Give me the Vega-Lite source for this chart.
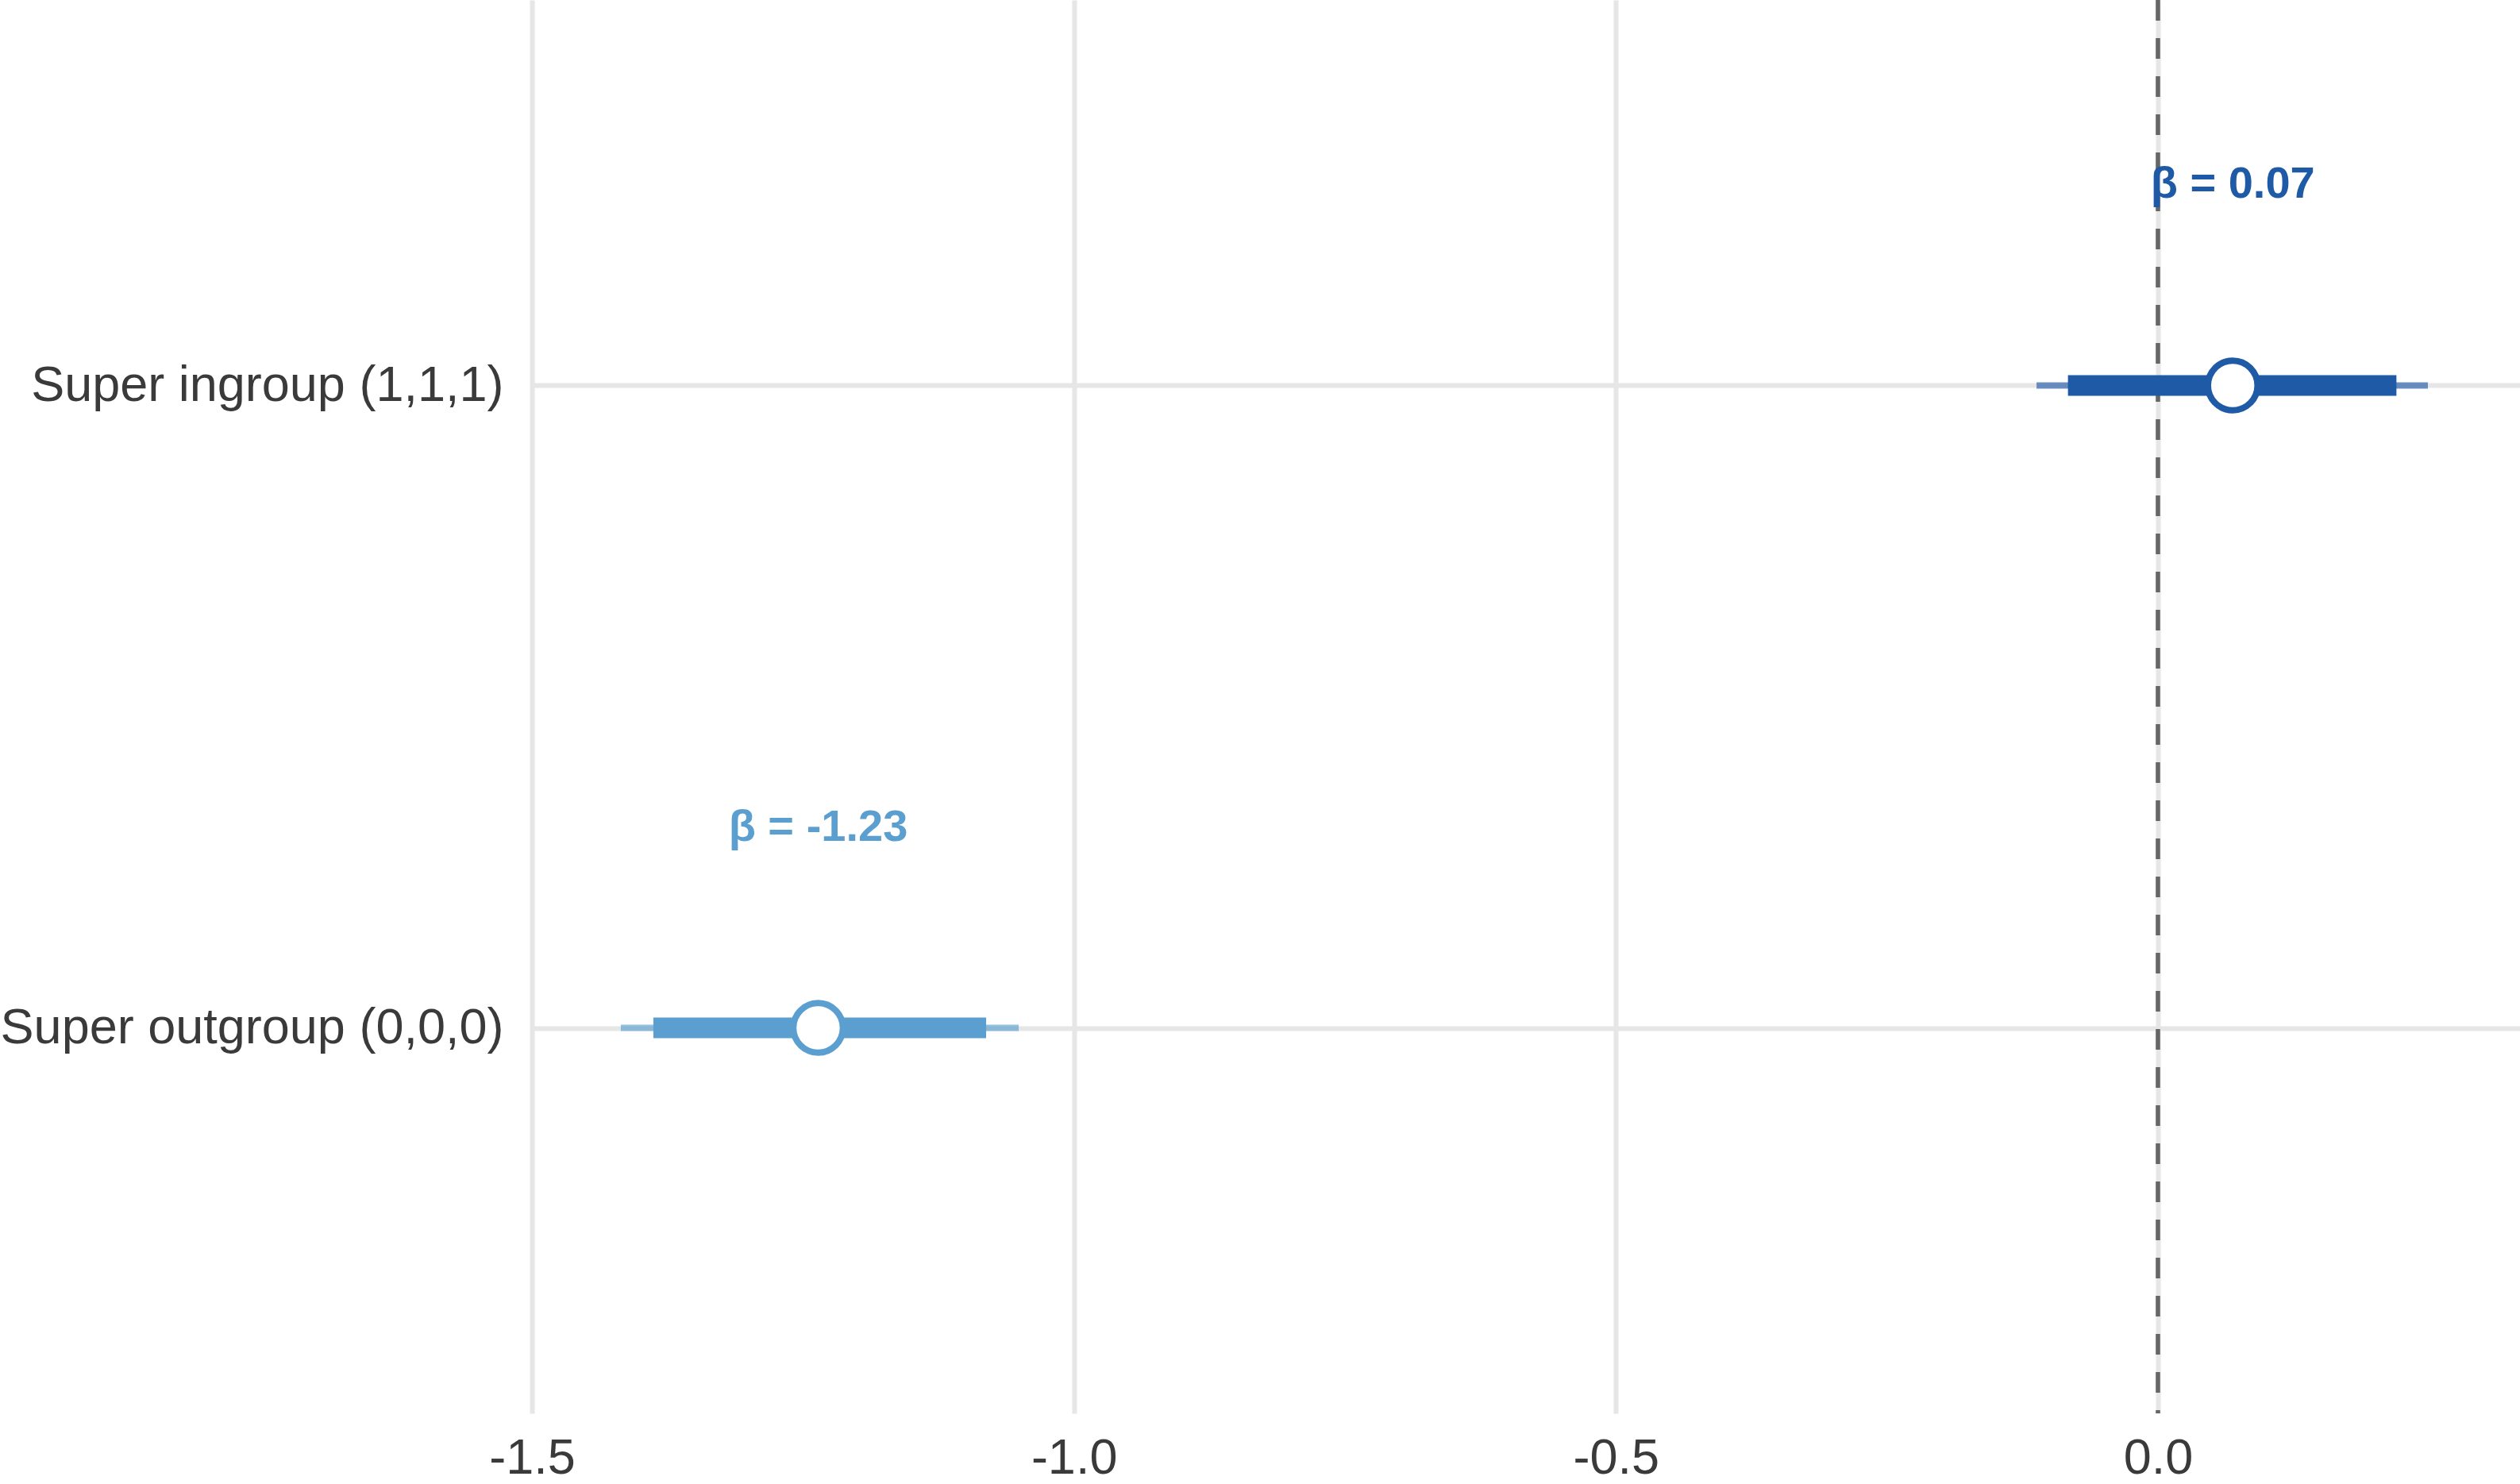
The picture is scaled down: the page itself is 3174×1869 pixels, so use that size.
{
  "$schema": "https://vega.github.io/schema/vega-lite/v6.json",
  "width": 2504,
  "height": 1780,
  "autosize": {"type": "none"},
  "padding": {"left": 670, "top": 0, "right": 0, "bottom": 89},
  "background": "white",
  "config": {
    "view": {"stroke": null},
    "font": "Liberation Sans",
    "axisY": {"grid": true, "gridColor": "#e6e6e6", "gridWidth": 6, "domain": false, "ticks": false, "labelFontSize": 63, "labelColor": "#3a3a3a", "labelPadding": 36, "labelLimit": 2000, "title": null}
  },
  "data": {
    "values": [
      {"label": "Super ingroup (1,1,1)", "grp": "in", "beta": 0.069, "inner_lo": -0.083, "inner_hi": 0.22, "outer_lo": -0.112, "outer_hi": 0.249, "txt": "β = 0.07"},
      {"label": "Super outgroup (0,0,0)", "grp": "out", "beta": -1.236, "inner_lo": -1.388, "inner_hi": -1.081, "outer_lo": -1.418, "outer_hi": -1.051, "txt": "β = -1.23"}
    ]
  },
  "encoding": {
    "y": {"field": "label", "type": "nominal", "title": null, "scale": {"type": "point", "padding": 0.6, "domain": ["Super ingroup (1,1,1)", "Super outgroup (0,0,0)"]}},
    "color": {"field": "grp", "type": "nominal", "legend": null, "scale": {"domain": ["in", "out"], "range": ["#1f5aa6", "#5b9fd0"]}}
  },
  "layer": [
    {
      "data": {"values": [{"zero": 0}]},
      "mark": {"type": "rule", "color": "#666666", "strokeWidth": 5.5, "strokeDash": [26, 22]},
      "encoding": {
        "x": {"field": "zero", "type": "quantitative", "title": null, "scale": {"domain": [-1.5, 0.334], "nice": false, "zero": false},
              "axis": {"grid": true, "gridColor": "#e6e6e6", "gridWidth": 6, "domain": false, "ticks": false, "labelFontSize": 63, "labelColor": "#3a3a3a", "labelPadding": 25, "labelFlush": false, "labelOverlap": false, "values": [-1.5, -1, -0.5, 0], "labelExpr": "replace(format(datum.value, '.1f'), '\u2212', '-')", "title": null}},
        "y": null,
        "color": null
      }
    },
    {
      "mark": {"type": "rule", "strokeWidth": 8, "opacity": 0.65, "strokeCap": "butt"},
      "encoding": {
        "x": {"field": "outer_lo", "type": "quantitative", "title": null},
        "x2": {"field": "outer_hi"}
      }
    },
    {
      "mark": {"type": "rule", "strokeWidth": 26, "strokeCap": "butt"},
      "encoding": {
        "x": {"field": "inner_lo", "type": "quantitative", "title": null},
        "x2": {"field": "inner_hi"}
      }
    },
    {
      "mark": {"type": "point", "shape": "circle", "filled": false, "fill": "white", "fillOpacity": 1, "size": 3900, "strokeWidth": 8, "opacity": 1},
      "encoding": {
        "x": {"field": "beta", "type": "quantitative", "title": null}
      }
    },
    {
      "mark": {"type": "text", "fontSize": 56, "fontWeight": "bold", "align": "center", "baseline": "alphabetic", "dy": -236},
      "encoding": {
        "x": {"field": "beta", "type": "quantitative", "title": null},
        "text": {"field": "txt"}
      }
    }
  ]
}
